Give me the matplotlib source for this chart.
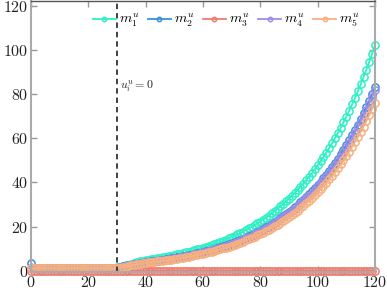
import matplotlib
matplotlib.use("Agg")
import matplotlib.pyplot as plt
import numpy as np

plt.rcParams["font.family"] = "serif"
plt.rcParams["font.serif"] = ["cmr10", "DejaVu Serif"]
plt.rcParams["mathtext.fontset"] = "cm"
plt.rcParams["axes.formatter.use_mathtext"] = True

steps = list(range(121))

m1 = [
    1.4, 1.4, 1.4, 1.4, 1.4, 1.4, 1.4, 1.4, 1.4, 1.4,
    1.4, 1.4, 1.4, 1.4, 1.4, 1.4, 1.4, 1.4, 1.4, 1.4,
    1.4, 1.4, 1.4, 1.4, 1.4, 1.4, 1.4, 1.4, 1.4, 1.4,
    1.6, 1.9, 2.2, 2.5, 2.85, 3.2, 3.55, 3.9, 4.25, 4.6,
    4.88, 5.07, 5.26, 5.47, 5.68, 5.90, 6.13, 6.36, 6.61, 6.87,
    7.13, 7.41, 7.70, 7.99, 8.30, 8.63, 8.96, 9.31, 9.67, 10.04,
    10.43, 10.84, 11.26, 11.69, 12.14, 12.61, 13.10, 13.61, 14.14, 14.69,
    15.26, 15.85, 16.46, 17.10, 17.76, 18.45, 19.16, 19.90, 20.67, 21.47,
    22.31, 23.17, 24.07, 25.00, 25.97, 26.97, 28.02, 29.10, 30.23, 31.40,
    32.62, 33.88, 35.20, 36.56, 37.97, 39.45, 40.97, 42.56, 44.21, 45.92,
    47.70, 49.55, 51.47, 53.46, 55.53, 57.68, 59.92, 62.24, 64.65, 67.15,
    69.75, 72.46, 75.26, 78.18, 81.20, 84.35, 87.62, 91.01, 94.54, 98.20,
    102.0,
]

m2 = [
    3.7, 1.4, 1.4, 1.4, 1.4, 1.4, 1.4, 1.4, 1.4, 1.4,
    1.4, 1.4, 1.4, 1.4, 1.4, 1.4, 1.4, 1.4, 1.4, 1.4,
    1.4, 1.4, 1.4, 1.4, 1.4, 1.4, 1.4, 1.4, 1.4, 1.4,
    1.5, 1.75, 2.0, 2.25, 2.5, 2.75, 3.0, 3.25, 3.5, 3.75,
    3.98, 4.13, 4.29, 4.46, 4.63, 4.81, 5.00, 5.18, 5.39, 5.60,
    5.81, 6.04, 6.28, 6.51, 6.76, 7.03, 7.30, 7.59, 7.88, 8.18,
    8.50, 8.83, 9.18, 9.53, 9.89, 10.28, 10.68, 11.09, 11.52, 11.97,
    12.44, 12.92, 13.41, 13.94, 14.47, 15.04, 15.62, 16.22, 16.85, 17.50,
    18.18, 18.88, 19.62, 20.38, 21.17, 21.98, 22.84, 23.72, 24.64, 25.59,
    26.59, 27.61, 28.69, 29.80, 30.95, 32.15, 33.39, 34.69, 36.03, 37.42,
    38.88, 40.38, 41.95, 43.57, 45.26, 47.01, 48.83, 50.73, 52.69, 54.73,
    56.85, 59.05, 61.34, 63.72, 66.18, 68.75, 71.41, 74.17, 77.05, 80.03,
    83.13,
]

m3 = [
    0.0, 0.0, 0.0, 0.0, 0.0, 0.0, 0.0, 0.0, 0.0, 0.0,
    0.0, 0.0, 0.0, 0.0, 0.0, 0.0, 0.0, 0.0, 0.0, 0.0,
    0.0, 0.0, 0.0, 0.0, 0.0, 0.0, 0.0, 0.0, 0.0, 0.0,
    0.0, 0.0, 0.0, 0.0, 0.0, 0.0, 0.0, 0.0, 0.0, 0.0,
    0.0, 0.0, 0.0, 0.0, 0.0, 0.0, 0.0, 0.0, 0.0, 0.0,
    0.0, 0.0, 0.0, 0.0, 0.0, 0.0, 0.0, 0.0, 0.0, 0.0,
    0.0, 0.0, 0.0, 0.0, 0.0, 0.0, 0.0, 0.0, 0.0, 0.0,
    0.0, 0.0, 0.0, 0.0, 0.0, 0.0, 0.0, 0.0, 0.0, 0.0,
    0.0, 0.0, 0.0, 0.0, 0.0, 0.0, 0.0, 0.0, 0.0, 0.0,
    0.0, 0.0, 0.0, 0.0, 0.0, 0.0, 0.0, 0.0, 0.0, 0.0,
    0.0, 0.0, 0.0, 0.0, 0.0, 0.0, 0.0, 0.0, 0.0, 0.0,
    0.0, 0.0, 0.0, 0.0, 0.0, 0.0, 0.0, 0.0, 0.0, 0.0,
    0.0,
]

m4 = [
    1.4, 1.4, 1.4, 1.4, 1.4, 1.4, 1.4, 1.4, 1.4, 1.4,
    1.4, 1.4, 1.4, 1.4, 1.4, 1.4, 1.4, 1.4, 1.4, 1.4,
    1.4, 1.4, 1.4, 1.4, 1.4, 1.4, 1.4, 1.4, 1.4, 1.4,
    1.5, 1.72, 1.95, 2.2, 2.45, 2.7, 2.95, 3.2, 3.45, 3.7,
    3.90, 4.06, 4.21, 4.38, 4.54, 4.72, 4.90, 5.09, 5.29, 5.50,
    5.70, 5.93, 6.16, 6.39, 6.64, 6.90, 7.17, 7.45, 7.74, 8.03,
    8.34, 8.67, 9.01, 9.35, 9.71, 10.09, 10.48, 10.89, 11.31, 11.75,
    12.21, 12.68, 13.17, 13.68, 14.21, 14.76, 15.33, 15.92, 16.54, 17.18,
    17.85, 18.54, 19.26, 20.00, 20.78, 21.58, 22.42, 23.28, 24.18, 25.12,
    26.10, 27.10, 28.16, 29.25, 30.38, 31.56, 32.78, 34.05, 35.37, 36.74,
    38.16, 39.64, 41.18, 42.77, 44.42, 46.14, 47.94, 49.79, 51.72, 53.72,
    55.80, 57.97, 60.21, 62.54, 64.96, 67.48, 70.10, 72.81, 75.63, 78.56,
    81.60,
]

m5 = [
    1.2, 1.2, 1.2, 1.2, 1.2, 1.2, 1.2, 1.2, 1.2, 1.2,
    1.2, 1.2, 1.2, 1.2, 1.2, 1.2, 1.2, 1.2, 1.2, 1.2,
    1.2, 1.2, 1.2, 1.2, 1.2, 1.2, 1.2, 1.2, 1.2, 1.2,
    1.3, 1.5, 1.72, 1.95, 2.2, 2.45, 2.7, 2.95, 3.2, 3.45,
    3.64, 3.78, 3.92, 4.08, 4.23, 4.40, 4.57, 4.74, 4.92, 5.12,
    5.31, 5.52, 5.74, 5.95, 6.18, 6.43, 6.68, 6.94, 7.20, 7.48,
    7.77, 8.08, 8.39, 8.71, 9.04, 9.39, 9.76, 10.14, 10.53, 10.94,
    11.37, 11.81, 12.26, 12.74, 13.23, 13.75, 14.27, 14.83, 15.40, 16.00,
    16.62, 17.26, 17.93, 18.63, 19.35, 20.09, 20.87, 21.68, 22.52, 23.39,
    24.30, 25.24, 26.22, 27.24, 28.29, 29.39, 30.52, 31.71, 32.94, 34.21,
    35.54, 36.91, 38.35, 39.83, 41.37, 42.97, 44.64, 46.37, 48.16, 50.03,
    51.96, 53.98, 56.07, 58.24, 60.49, 62.84, 65.28, 67.80, 70.43, 73.16,
    75.99,
]

labels = [r"$m_1^u$", r"$m_2^u$", r"$m_3^u$", r"$m_4^u$", r"$m_5^u$"]
colors = ["#2ff0c4", "#3d8fdb", "#f07b6e", "#9d8ee8", "#f8b07e"]
switch_step = 30

fig = plt.figure(figsize=(3.87, 2.92), dpi=100)
ax = fig.add_axes([0.080, 0.068, 0.889, 0.928])

for series, label, color in zip([m1, m2, m3, m4, m5], labels, colors):
    ax.plot(steps, series, color=color, lw=1.3, marker="o", ms=5.2,
            mfc="none", mew=1.1, label=label, clip_on=False)

ax.axvline(switch_step, color="#333333", ls=(0, (3, 2.2)), lw=1.3)
ax.text(switch_step + 1.2, 82, r"$u_i^u = 0$", fontsize=8.5, color="#222222")

ax.set_xlim(0, 120)
ax.set_ylim(-0.6, 122)
ax.set_xticks([0, 20, 40, 60, 80, 100, 120])
ax.set_yticks([0, 20, 40, 60, 80, 100, 120])
ax.tick_params(direction="in", top=True, right=True, length=4, width=1,
               colors="#999999", labelcolor="#222222", labelsize=11.5, pad=2)

for side in ["left", "right", "bottom"]:
    ax.spines[side].set_color("#aaaaaa")
    ax.spines[side].set_linewidth(1.5)
ax.spines["top"].set_color("#555555")
ax.spines["top"].set_linewidth(1.0)

ax.legend(loc="upper right", bbox_to_anchor=(0.975, 0.985), ncol=5, frameon=False,
          fontsize=10, handlelength=1.7, handletextpad=0.2, columnspacing=0.6,
          markerscale=0.6, borderaxespad=0.1)

fig.savefig("out.png", dpi=100)
